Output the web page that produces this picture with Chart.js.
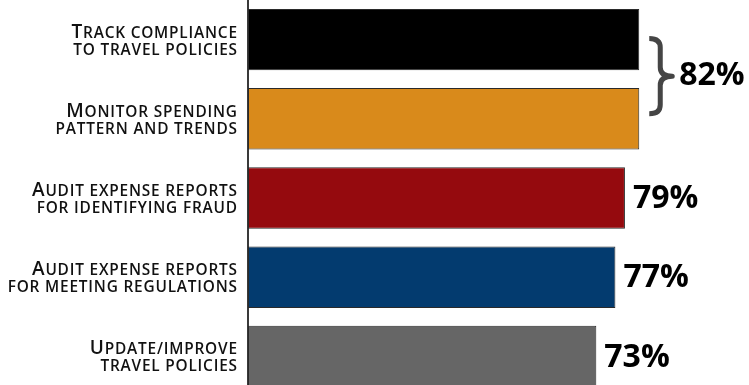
<!DOCTYPE html>
<html>
<head>
<meta charset="utf-8">
<script src="https://cdn.jsdelivr.net/npm/chart.js@4/dist/chart.umd.min.js"></script>
<style>
  html, body { margin: 0; padding: 0; background: #fff; overflow: hidden; }
  #caja { position: relative; width: 749px; height: 396px; }
</style>
</head>
<body>
<div id="caja"><canvas id="myChart"></canvas></div>
<script>
// datos
const categorias = [
  ["Track compliance", "to travel policies"],
  ["Monitor spending", "pattern and trends"],
  ["Audit expense reports", "for identifying fraud"],
  ["Audit expense reports", "for meeting regulations"],
  ["Update/improve", "travel policies"]
];
const valores = [82, 82, 79, 77, 73];
const etiquetas = ["", "", "79%", "77%", "73%"];
// las dos primeras barras comparten una llave con 82%
const grupoLlave = [0, 1];
const textoLlave = "82%";

(function () {
  const fuenteValor = "bold 32px 'Open Sans'";
  const familia = "'Open Sans'";

  // versalitas a mano: mayúsculas a 19px, el resto en mayúscula a 15.4px
  function anchoVersalitas(ctx, texto) {
    let w = 0;
    for (const c of texto) {
      const mayus = c !== c.toLowerCase();
      ctx.font = `600 ${mayus ? 19 : 15.4}px ${familia}`;
      w += ctx.measureText(c.toUpperCase()).width + 0.8;
    }
    return w - 0.8;
  }
  function dibujarVersalitas(ctx, texto, xDer, yBase) {
    let x = xDer - anchoVersalitas(ctx, texto);
    for (const c of texto) {
      const mayus = c !== c.toLowerCase();
      ctx.font = `600 ${mayus ? 19 : 15.4}px ${familia}`;
      const C = c.toUpperCase();
      ctx.fillText(C, x, yBase);
      x += ctx.measureText(C).width + 0.8;
    }
  }

  const rotulos = {
    id: "rotulos",
    afterDraw(chart) {
      const ctx = chart.ctx;
      const y = chart.scales.y;
      ctx.save();
      ctx.fillStyle = "#111";
      ctx.textBaseline = "alphabetic";
      ctx.textAlign = "left";
      categorias.forEach((lineas, i) => {
        const c = y.getPixelForValue(i);
        lineas.forEach((t, j) => dibujarVersalitas(ctx, t, y.right - 11, c - 2 + j * 17));
      });
      ctx.restore();
    }
  };

  const etiquetasValor = {
    id: "etiquetasValor",
    afterDatasetsDraw(chart) {
      const ctx = chart.ctx;
      const x = chart.scales.x;
      const y = chart.scales.y;
      ctx.save();
      ctx.font = fuenteValor;
      ctx.fillStyle = "#000";
      ctx.textBaseline = "middle";
      ctx.textAlign = "left";
      valores.forEach((v, i) => {
        if (!etiquetas[i]) return;
        ctx.fillText(etiquetas[i], x.getPixelForValue(v) + 8, y.getPixelForValue(i) + 1);
      });

      // llave
      const xMax = Math.max(...grupoLlave.map(i => x.getPixelForValue(valores[i])));
      const arriba = y.getPixelForValue(grupoLlave[0]) - 1;
      const abajo = y.getPixelForValue(grupoLlave[1]) - 5;
      const medio = (arriba + abajo) / 2;
      const xl = xMax + 10, xm = xMax + 21, xt = xMax + 33, r = 9;
      ctx.strokeStyle = "#454545";
      ctx.lineWidth = 5;
      ctx.lineJoin = "round";
      ctx.beginPath();
      ctx.moveTo(xl, arriba);
      ctx.quadraticCurveTo(xm, arriba, xm, arriba + r);
      ctx.lineTo(xm, medio - r);
      ctx.quadraticCurveTo(xm, medio, xt, medio);
      ctx.quadraticCurveTo(xm, medio, xm, medio + r);
      ctx.lineTo(xm, abajo - r);
      ctx.quadraticCurveTo(xm, abajo, xl, abajo);
      ctx.stroke();
      ctx.fillText(textoLlave, xt + 7, medio);
      ctx.restore();
    }
  };

  const ctx = document.getElementById("myChart");
  new Chart(ctx, {
    type: "bar",
    data: {
      labels: categorias,
      datasets: [
        {
          data: valores,
          borderWidth: 1,
          borderColor: "#2a2a2a",
          borderSkipped: false,
          categoryPercentage: 0.775,
          barPercentage: 1,
          backgroundColor: ["#000000", "#D98A1B", "#950A0E", "#033B6F", "#666666"],
        },
      ],
    },
    options: {
      indexAxis: "y",
      responsive: true,
      maintainAspectRatio: false,
      animation: false,
      layout: { padding: 0 },
      plugins: {
        legend: { display: false },
        tooltip: { enabled: false },
      },
      scales: {
        x: {
          display: false,
          min: 0,
          max: 105,
        },
        y: {
          grid: { display: false, drawTicks: false },
          border: { display: true, color: "#3a3a3a", width: 2 },
          ticks: { display: false },
          afterFit(scale) {
            scale.width = 248;
            scale.paddingTop = 0;
            scale.paddingBottom = 0;
          },
        },
      },
    },
    plugins: [etiquetasValor, rotulos],
  });
})();
</script>
</body>
</html>
